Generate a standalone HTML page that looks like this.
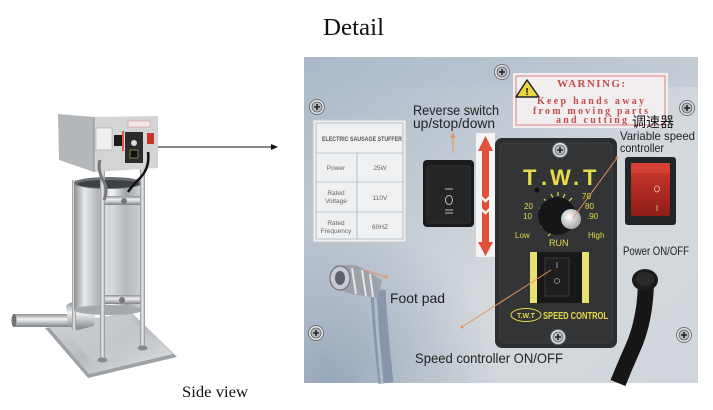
<!DOCTYPE html>
<html><head><meta charset="utf-8"><style>
html,body{margin:0;padding:0;background:#fff;}
svg{display:block;}
.s{font-family:"Liberation Sans",sans-serif;fill:#222;}
.r{font-family:"Liberation Serif",serif;}
</style></head><body>
<svg width="713" height="410" viewBox="0 0 713 410" xmlns="http://www.w3.org/2000/svg">
<defs>
<linearGradient id="pg" x1="0" y1="0" x2="1" y2="1">
<stop offset="0" stop-color="#a9b8c8"/><stop offset="0.35" stop-color="#c2cbd4"/><stop offset="0.6" stop-color="#d4d9dd"/><stop offset="1" stop-color="#d0d6db"/>
</linearGradient>
<radialGradient id="bl" cx="330" cy="385" r="170" gradientUnits="userSpaceOnUse">
<stop offset="0" stop-color="#8c9eb3" stop-opacity="0.85"/><stop offset="1" stop-color="#8c9eb3" stop-opacity="0"/>
</radialGradient>
<linearGradient id="cyl" x1="0" y1="0" x2="1" y2="0">
<stop offset="0" stop-color="#8a8d92"/><stop offset="0.15" stop-color="#e8eaec"/><stop offset="0.35" stop-color="#b0b4b8"/><stop offset="0.55" stop-color="#f4f4f4"/><stop offset="0.75" stop-color="#9ea2a6"/><stop offset="1" stop-color="#d8dadc"/>
</linearGradient>
<linearGradient id="rod" x1="0" y1="0" x2="1" y2="0">
<stop offset="0" stop-color="#8c9094"/><stop offset="0.5" stop-color="#f0f0f0"/><stop offset="1" stop-color="#8c9094"/>
</linearGradient>
<linearGradient id="tube" x1="0" y1="0" x2="0" y2="1">
<stop offset="0" stop-color="#8c9094"/><stop offset="0.4" stop-color="#f2f2f2"/><stop offset="1" stop-color="#7d8186"/>
</linearGradient>
<linearGradient id="base" x1="0" y1="0" x2="1" y2="1">
<stop offset="0" stop-color="#d6d8da"/><stop offset="0.5" stop-color="#b8bcc0"/><stop offset="1" stop-color="#e4e6e8"/>
</linearGradient>
<linearGradient id="red" x1="0" y1="0" x2="0" y2="1">
<stop offset="0" stop-color="#d23a2e"/><stop offset="1" stop-color="#8e1d18"/>
</linearGradient>
<radialGradient id="knob" cx="0.4" cy="0.4" r="0.6">
<stop offset="0" stop-color="#ffffff"/><stop offset="1" stop-color="#a8a8a8"/>
</radialGradient>
<g id="screw">
<circle r="7.5" fill="#e2e4e6" stroke="#6e7378" stroke-width="1"/>
<circle r="5" fill="#b6babe" stroke="#5a5e62" stroke-width="0.8"/>
<path d="M-3 0H3M0 -3V3" stroke="#222" stroke-width="1.6"/>
</g>
</defs>

<rect width="713" height="410" fill="#fff"/>

<!-- Titles -->
<text x="323" y="35" class="r" font-size="24" fill="#111" textLength="61" lengthAdjust="spacingAndGlyphs">Detail</text>
<text x="182" y="397" class="r" font-size="16" fill="#111" textLength="66" lengthAdjust="spacingAndGlyphs">Side view</text>

<!-- Arrow -->
<line x1="153" y1="147" x2="272" y2="147" stroke="#111" stroke-width="1"/>
<polygon points="271,144 278,147 271,150" fill="#111"/>

<!-- ===== Machine ===== -->
<!-- base -->
<polygon points="45,328 132,313 177,357 88,378" fill="#9ea2a6"/>
<polygon points="48,326 131,312 173,354 89,374" fill="url(#base)"/>
<polygon points="62,326 128,315 160,348 92,362" fill="#c9cccf" opacity="0.7"/>
<!-- spout -->
<rect x="13" y="314" width="62" height="13" fill="url(#tube)"/>
<ellipse cx="14" cy="320.5" rx="2.5" ry="6.5" fill="#6e7276"/>
<path d="M66 306 Q70 300 88 302 L96 310 L94 326 L78 330 L68 326 Z" fill="url(#tube)"/>
<!-- rods back -->
<rect x="72" y="180" width="4" height="150" fill="url(#rod)"/>
<!-- cylinder -->
<rect x="74" y="182" width="69" height="128" fill="url(#cyl)"/>
<ellipse cx="108.5" cy="310" rx="34.5" ry="5" fill="#a5a9ad"/>
<ellipse cx="108.5" cy="183" rx="34.5" ry="6" fill="#6a6e72"/>
<ellipse cx="108.5" cy="184" rx="31" ry="4" fill="#3e4246"/>
<!-- inner piston shading -->
<rect x="108" y="205" width="30" height="90" fill="#c4c8cc" opacity="0.6"/>
<!-- crossbars -->
<rect x="104" y="196" width="40" height="9" fill="url(#tube)"/>
<circle cx="124" cy="201" r="3" fill="#777"/>
<rect x="104" y="295" width="40" height="9" fill="url(#tube)"/>
<circle cx="122" cy="300" r="3" fill="#777"/>
<!-- front rods -->
<rect x="100" y="152" width="5" height="208" fill="url(#rod)"/>
<rect x="140" y="152" width="5" height="196" fill="url(#rod)"/>
<ellipse cx="102.5" cy="360" rx="5" ry="2.5" fill="#888"/>
<ellipse cx="142.5" cy="348" rx="5" ry="2.5" fill="#888"/>
<!-- top box -->
<polygon points="58,114 94,117 94,172 59,160" fill="#b4b7ba"/>
<polygon points="94,117 158,116 158,168 94,172" fill="#d2d4d6"/>
<line x1="94" y1="117" x2="94" y2="172" stroke="#8a8e92" stroke-width="1"/>
<rect x="96" y="128" width="16" height="22" fill="#eef0f2" stroke="#999" stroke-width="0.5"/>
<rect x="114" y="135" width="8" height="11" fill="#1c1c1c"/>
<rect x="122" y="131" width="2" height="20" fill="#e05a40"/>
<rect x="125" y="132" width="18" height="31" fill="#2a2c2e"/>
<circle cx="134" cy="143" r="3" fill="#ddd"/>
<rect x="130" y="150" width="8" height="8" fill="#111" stroke="#c8c060" stroke-width="0.6"/>
<rect x="147" y="133" width="7" height="11" fill="#c8332a"/>
<rect x="128" y="121" width="22" height="6" fill="#f2e8e8" stroke="#d07070" stroke-width="0.4"/>
<!-- cords -->
<path d="M148 152 Q150 168 140 178 Q132 186 128 192" stroke="#111" stroke-width="2.5" fill="none"/>
<path d="M100 160 Q97 170 104 182 Q108 190 104 200" stroke="#777" stroke-width="3" fill="none"/>

<!-- ===== Detail panel ===== -->
<rect x="304" y="57" width="394" height="326" fill="url(#pg)"/>
<rect x="304" y="57" width="394" height="326" fill="url(#bl)"/>
<rect x="304" y="57" width="394" height="30" fill="#aebccb" opacity="0.35"/>

<!-- screws -->
<use href="#screw" x="317" y="107"/>
<use href="#screw" x="502" y="72"/>
<use href="#screw" x="687" y="108"/>
<use href="#screw" x="316" y="333"/>
<use href="#screw" x="684" y="335"/>

<!-- spec label -->
<rect x="313" y="120" width="93" height="122" fill="#eef0f2" stroke="#c4c8cc" stroke-width="1"/>
<rect x="316" y="123" width="87" height="116" fill="none" stroke="#9a9ea2" stroke-width="0.6"/>
<line x1="316" y1="153" x2="403" y2="153" stroke="#9a9ea2" stroke-width="0.6"/>
<line x1="316" y1="182" x2="403" y2="182" stroke="#9a9ea2" stroke-width="0.6"/>
<line x1="316" y1="212" x2="403" y2="212" stroke="#9a9ea2" stroke-width="0.6"/>
<line x1="357" y1="153" x2="357" y2="239" stroke="#9a9ea2" stroke-width="0.6"/>
<text x="322" y="141" class="s" font-size="6" font-weight="bold" fill="#555" textLength="80" lengthAdjust="spacingAndGlyphs" style="fill:#555">ELECTRIC SAUSAGE STUFFER</text>
<g class="s" font-size="6.5" text-anchor="middle" style="fill:#666">
<text x="336" y="170">Power</text>
<text x="380" y="170">25W</text>
<text x="336" y="195">Rated</text>
<text x="336" y="203">Voltage</text>
<text x="380" y="200">110V</text>
<text x="336" y="225">Rated</text>
<text x="336" y="233">Frequency</text>
<text x="380" y="229">60HZ</text>
</g>

<!-- warning label -->
<rect x="513" y="73" width="155" height="55" fill="#f2eef0"/>
<rect x="516" y="76" width="149" height="49" fill="none" stroke="#d88080" stroke-width="1"/>
<polygon points="527,80 516,97 539,97" fill="#e6d640" stroke="#222" stroke-width="1.5" stroke-linejoin="round"/>
<text x="527" y="95" font-family="Liberation Sans" font-weight="bold" font-size="10" fill="#111" text-anchor="middle">!</text>
<g class="r" font-weight="bold" fill="#c0504a">
<text x="557" y="87" font-size="11" textLength="68" lengthAdjust="spacing">WARNING:</text>
<text x="537" y="104" font-size="10" textLength="107" lengthAdjust="spacing">Keep hands away</text>
<text x="533" y="114" font-size="10" textLength="115" lengthAdjust="spacing">from moving parts</text>
<text x="556" y="123" font-size="10" textLength="71" lengthAdjust="spacing">and cutting</text>
</g>

<!-- reverse switch -->
<rect x="423" y="160" width="51" height="67" rx="4" fill="#1a1b1c"/>
<rect x="427" y="166" width="43" height="57" rx="2" fill="#242526" stroke="#333" stroke-width="1"/>
<line x1="445" y1="189" x2="453" y2="189" stroke="#bbb" stroke-width="1"/>
<ellipse cx="449" cy="200" rx="3.5" ry="4.5" fill="none" stroke="#bbb" stroke-width="1"/>
<line x1="445" y1="210" x2="453" y2="210" stroke="#bbb" stroke-width="1"/>
<line x1="445" y1="213" x2="453" y2="213" stroke="#bbb" stroke-width="1"/>

<!-- red arrow strip -->
<rect x="476" y="133" width="19" height="124" fill="#f4f4f4"/>
<polygon points="485.5,136 478,151 493,151" fill="#e0503c"/>
<rect x="482" y="150" width="7" height="96" fill="#e0503c"/>
<polyline points="480,196 485.5,201 491,196" fill="none" stroke="#f4f4f4" stroke-width="2.5"/>
<polyline points="480,208 485.5,213 491,208" fill="none" stroke="#f4f4f4" stroke-width="2.5"/>
<polygon points="478,242 493,242 485.5,256" fill="#e0503c"/>

<!-- speed controller box -->
<rect x="495" y="138" width="122" height="210" rx="7" fill="#2c2e30"/>
<rect x="500" y="143" width="112" height="200" rx="5" fill="#323436" stroke="#3e4042" stroke-width="1"/>
<use href="#screw" x="560" y="150"/>
<use href="#screw" x="558" y="337"/>
<g font-family="Liberation Sans" font-weight="bold" fill="#e8dc4a">
<text x="523" y="185" font-size="22">T</text>
<text x="541" y="185" font-size="22">.</text>
<text x="550" y="185" font-size="22">W</text>
<text x="573" y="185" font-size="22">.</text>
<text x="583" y="185" font-size="22">T</text>
</g>
<circle cx="537" cy="190" r="2.5" fill="#111"/>
<!-- dial ticks -->
<g stroke="#e8dc4a" stroke-width="1.2">
<line x1="538" y1="217" x2="542" y2="217"/>
<line x1="539" y1="208" x2="543" y2="210"/>
<line x1="544" y1="199" x2="547" y2="202"/>
<line x1="551" y1="194" x2="553" y2="198"/>
<line x1="558" y1="192" x2="558" y2="196"/>
<line x1="565" y1="194" x2="563" y2="198"/>
<line x1="572" y1="198" x2="569" y2="201"/>
<line x1="541" y1="227" x2="545" y2="225"/>
<line x1="548" y1="236" x2="551" y2="233"/>
</g>
<circle cx="557" cy="216" r="19" fill="#151617"/>
<circle cx="571" cy="219" r="10" fill="url(#knob)"/>
<g font-family="Liberation Sans" font-size="8" fill="#e8dc4a">
<text x="524" y="209">20</text>
<text x="523" y="219">10</text>
<text x="582" y="199">70</text>
<text x="585" y="209">80</text>
<text x="587" y="219">.90</text>
<text x="515" y="238">Low</text>
<text x="549" y="246" font-size="9">RUN</text>
<text x="588" y="238">High</text>
</g>
<!-- lower switch -->
<rect x="530" y="252" width="7" height="51" fill="#e8e070"/>
<rect x="582" y="252" width="7" height="51" fill="#e8e070"/>
<rect x="537" y="252" width="45" height="51" fill="#181818"/>
<rect x="545" y="258" width="24" height="38" fill="#1e1e1e" stroke="#3a3a3a" stroke-width="1"/>
<line x1="557" y1="262" x2="557" y2="268" stroke="#999" stroke-width="1"/>
<circle cx="557" cy="281" r="2.5" fill="none" stroke="#999" stroke-width="0.8"/>
<ellipse cx="526" cy="315" rx="15" ry="6.5" fill="none" stroke="#e8dc4a" stroke-width="1"/>
<text x="526" y="318" font-family="Liberation Sans" font-size="7" font-weight="bold" fill="#e8dc4a" text-anchor="middle">T.W.T</text>
<text x="543" y="319" font-family="Liberation Sans" font-size="10" font-weight="bold" fill="#e8dc4a" textLength="65" lengthAdjust="spacingAndGlyphs">SPEED CONTROL</text>

<!-- power switch -->
<rect x="625" y="157" width="51" height="68" rx="3" fill="#232425"/>
<rect x="631" y="163" width="39" height="53" rx="2" fill="url(#red)"/>
<rect x="631" y="163" width="39" height="10" fill="#d8473a" opacity="0.6"/>
<ellipse cx="657" cy="189" rx="2.5" ry="3" fill="none" stroke="#f0c0b8" stroke-width="0.8"/>
<line x1="657" y1="205" x2="657" y2="211" stroke="#f0c0b8" stroke-width="0.8"/>

<!-- power cord -->
<path d="M646 278 Q646 320 632 350 Q624 368 618 383" stroke="#161616" stroke-width="16" fill="none"/>
<ellipse cx="645" cy="280" rx="13" ry="11" fill="#1c1c1c"/>
<ellipse cx="645" cy="279" rx="9" ry="7" fill="#2a2a2a"/>

<!-- foot pad connector & cable -->
<path d="M378 290 Q380 330 386 383" stroke="#8796a8" stroke-width="15" fill="none"/>
<path d="M375 292 Q377 330 382 383" stroke="#b0bccb" stroke-width="3" fill="none"/>
<path d="M330 272 Q340 262 358 266 L382 280 L378 298 L352 294 Q332 290 330 272 Z" fill="#9ca2a8"/>
<ellipse cx="340" cy="278" rx="10" ry="12" fill="#c8ccd0" stroke="#6e747a" stroke-width="1.2"/>
<ellipse cx="340" cy="278" rx="5" ry="7" fill="#5c6268"/>
<path d="M352 268 L356 294 M362 270 L366 296 M370 274 L373 297" stroke="#e4e6e8" stroke-width="2"/>

<!-- leader lines -->
<g stroke="#e8905a" stroke-width="1">
<line x1="453" y1="136" x2="453" y2="153"/>
<line x1="364" y1="270" x2="386" y2="277"/>
<line x1="462" y1="327" x2="551" y2="270"/>
<line x1="617" y1="158" x2="573" y2="218"/>
</g>
<polygon points="453,132 450.5,138 455.5,138" fill="#e8905a"/>
<circle cx="386" cy="277" r="1.5" fill="#e8905a"/>
<circle cx="462" cy="327" r="1.5" fill="#e8905a"/>
<circle cx="617" cy="158" r="1.5" fill="#e8905a"/>

<!-- labels -->
<text x="413" y="115" class="s" font-size="14" textLength="86" lengthAdjust="spacingAndGlyphs">Reverse switch</text>
<text x="413" y="128" class="s" font-size="14" textLength="82" lengthAdjust="spacingAndGlyphs">up/stop/down</text>
<text x="632" y="127" font-family="'Noto Sans CJK SC',sans-serif" font-size="14" fill="#111">调速器</text>
<text x="620" y="140" class="s" font-size="12" textLength="75" lengthAdjust="spacingAndGlyphs">Variable speed</text>
<text x="620" y="152" class="s" font-size="12" textLength="44" lengthAdjust="spacingAndGlyphs">controller</text>
<text x="623" y="255" class="s" font-size="12" textLength="66" lengthAdjust="spacingAndGlyphs">Power ON/OFF</text>
<text x="390" y="303" class="s" font-size="14" textLength="55" lengthAdjust="spacingAndGlyphs">Foot pad</text>
<text x="415" y="363" class="s" font-size="14" textLength="148" lengthAdjust="spacingAndGlyphs">Speed controller ON/OFF</text>
</svg>
</body></html>
